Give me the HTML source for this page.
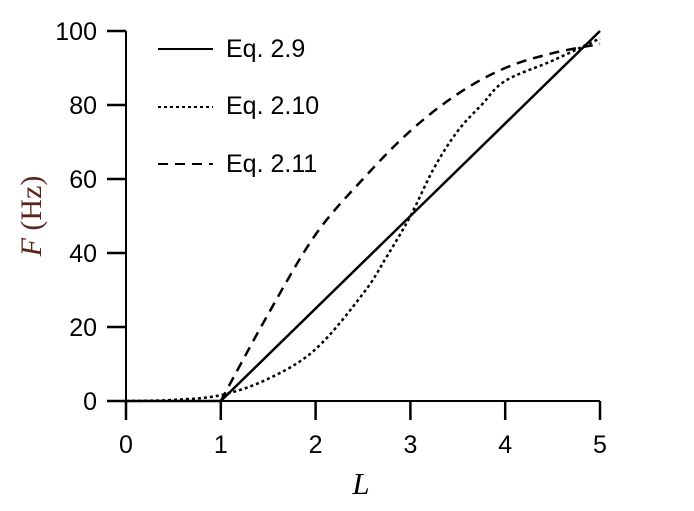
<!DOCTYPE html>
<html><head><meta charset="utf-8"><style>
body{margin:0;background:#fff}
svg text{font-family:"Liberation Sans",sans-serif;font-size:25px;fill:#000}
</style></head><body>
<svg width="694" height="506" xmlns="http://www.w3.org/2000/svg">
<g id="axes"></g>
<g id="series"></g>
<g>
<line x1="158" y1="49" x2="213" y2="49" stroke="#000" stroke-width="2"/>
<text x="226" y="57">Eq. 2.9</text>
<line x1="158" y1="107" x2="213" y2="107" stroke="#000" stroke-width="2" stroke-dasharray="3,3"/>
<text x="226" y="114">Eq. 2.10</text>
<line x1="158" y1="164" x2="213" y2="164" stroke="#000" stroke-width="2" stroke-dasharray="10,7"/>
<text x="226" y="172">Eq. 2.11</text>
</g>
<text x="361" y="494" style="font-family:'Liberation Serif',serif;font-style:italic;font-size:31px" text-anchor="middle">L</text>
<text transform="translate(41,216) rotate(-90)" text-anchor="middle" style="font-family:'Liberation Serif',serif;font-size:30px;fill:#5a2418"><tspan font-style="italic">F</tspan> (Hz)</text>
</svg>
<script>
const xTicks=[0,1,2,3,4,5];
const yTicks=[0,20,40,60,80,100];
const eq29L=[0,1,5];
const eq29F=[0,0,100];
const eq210L=[0,0.5,1,1.5,2,2.5,2.75,3,3.25,3.5,3.75,4,4.5,5];
const eq210F=[0,0.3,1.6,6,14,29,39,50,63,73,80,86.5,92,98];
const eq211L=[1,1.5,2,2.5,3,3.5,4,4.5,5];
const eq211F=[0,23.5,45,60,73,83,90,94,96.5];
const X=v=>126+v*(600-126)/5, Y=v=>401-v*(401-31)/100;
const NS="http://www.w3.org/2000/svg";
function mk(t,a,p){const e=document.createElementNS(NS,t);for(const k in a)e.setAttribute(k,a[k]);p.appendChild(e);return e;}
const ax=document.getElementById('axes');
let e=mk('line',{x1:126,y1:31,x2:126,y2:401,stroke:'#000','stroke-width':2},ax);


e=mk('line',{x1:126,y1:401,x2:600,y2:401,stroke:'#000','stroke-width':2},ax);


xTicks.forEach(v=>{
 let t=mk('line',{x1:X(v),y1:401,x2:X(v),y2:420,stroke:'#000','stroke-width':2.5},ax);
 
 
 let l=mk('text',{x:X(v),y:453,'text-anchor':'middle'},ax);l.textContent=v;
 
 
});
yTicks.forEach(v=>{
 let t=mk('line',{x1:107,y1:Y(v),x2:126,y2:Y(v),stroke:'#000','stroke-width':2.5},ax);
 
 
 let l=mk('text',{x:97,y:Y(v)+9,'text-anchor':'end'},ax);l.textContent=v;
 
 
});
const sg=document.getElementById('series');
function line(Ls,Fs,dash,name,smooth){
 const P=Ls.map((l,i)=>[X(l),Y(Fs[i])]);
 let d='M'+P[0][0].toFixed(1)+','+P[0][1].toFixed(1);
 for(let i=0;i<P.length-1;i++){
  if(!smooth){d+=' L'+P[i+1][0].toFixed(1)+','+P[i+1][1].toFixed(1);continue;}
  const p0=P[Math.max(0,i-1)],p1=P[i],p2=P[i+1],p3=P[Math.min(P.length-1,i+2)];
  const c1=[p1[0]+(p2[0]-p0[0])/6,p1[1]+(p2[1]-p0[1])/6];
  const c2=[p2[0]-(p3[0]-p1[0])/6,p2[1]-(p3[1]-p1[1])/6];
  d+=' C'+c1.map(v=>v.toFixed(1))+' '+c2.map(v=>v.toFixed(1))+' '+p2.map(v=>v.toFixed(1));
 }
 const p=mk('path',{d:d,fill:'none',stroke:'#000','stroke-width':2.5,'stroke-dasharray':dash,'stroke-linejoin':'round'},sg);
 
 
}
line(eq29L,eq29F,'none','line-eq-2-9',false);
line(eq210L,eq210F,'3,3','line-eq-2-10',true);
line(eq211L,eq211F,'10,7','line-eq-2-11',true);
</script>
</body></html>
